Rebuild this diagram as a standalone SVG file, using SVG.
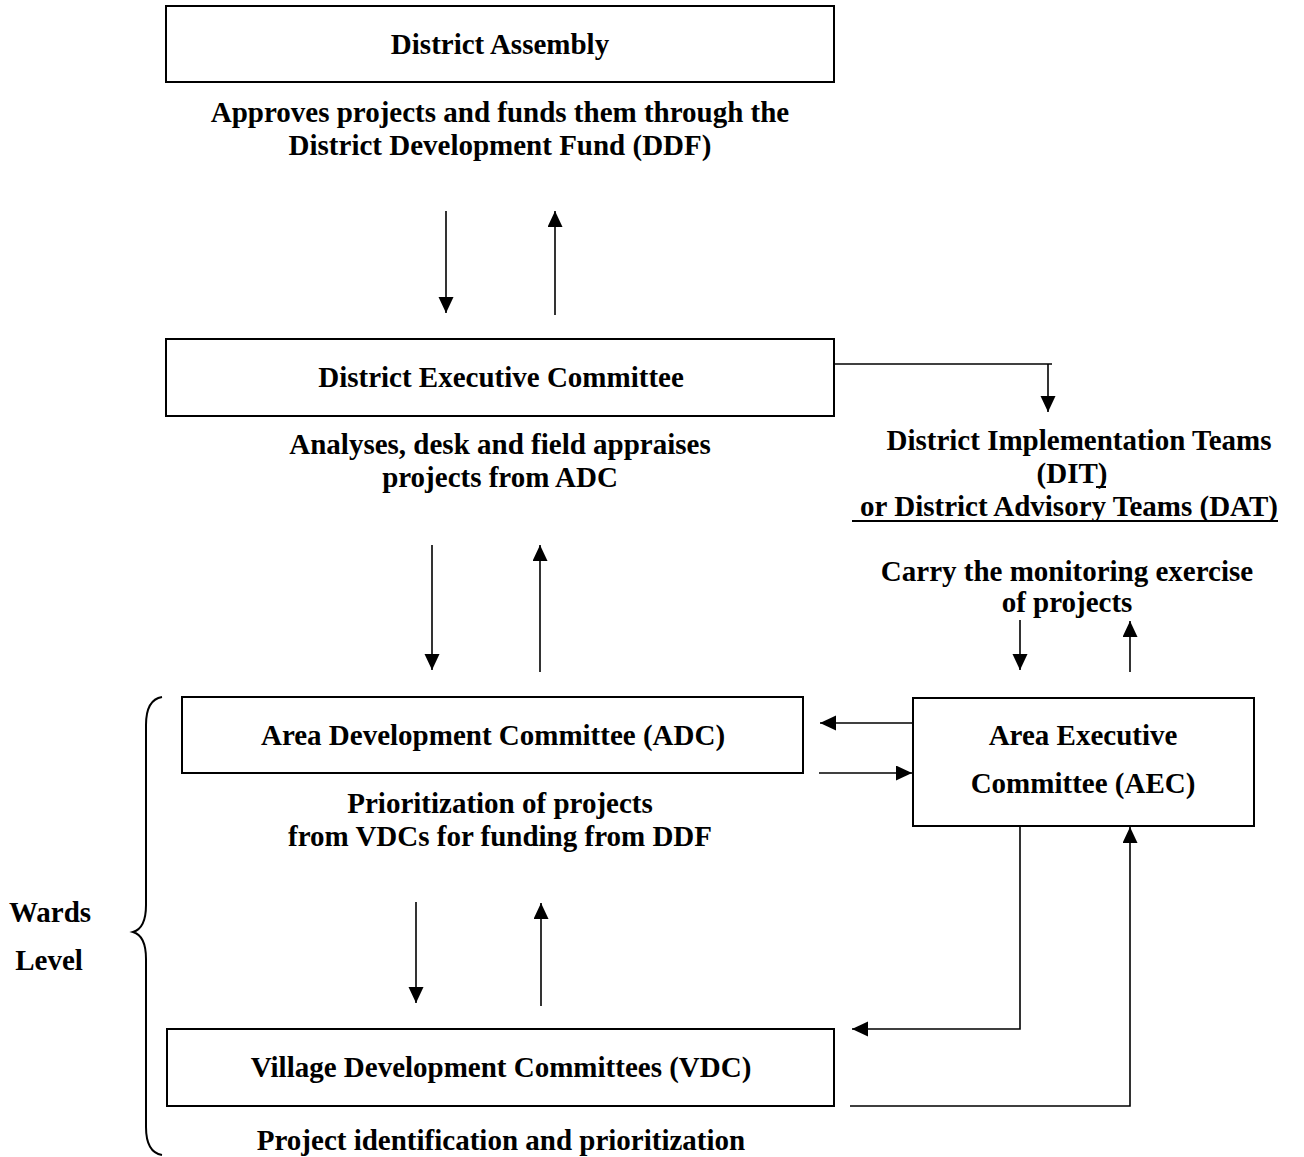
<svg xmlns="http://www.w3.org/2000/svg" width="1304" height="1157" viewBox="0 0 1304 1157">
<style>
  .box { fill: #ffffff; stroke: #000000; stroke-width: 2; }
  .t { font-family: "Liberation Serif", "Times New Roman", serif; font-weight: bold; font-size: 29px; fill: #000000; text-anchor: middle; }
  .ul { stroke: #000000; stroke-width: 2; }
  .c { fill: none; stroke: #000000; stroke-width: 1.6; }
  .brace { fill: none; stroke: #000000; stroke-width: 2; }
  .a { fill: none; stroke: #000000; stroke-width: 1.6; marker-end: url(#arr); }
</style>
<defs>
  <marker id="arr" markerUnits="userSpaceOnUse" markerWidth="17" markerHeight="16" refX="16" refY="7.5" orient="auto">
    <path d="M0,0 L16,7.5 L0,15 z" fill="#000000"/>
  </marker>
</defs>
<rect x="0" y="0" width="1304" height="1157" fill="#ffffff"/>

<g id="district-assembly">
  <rect class="box" x="166" y="6" width="668" height="76"/>
  <text class="t" x="500" y="54">District Assembly</text>
  <text class="t" x="500" y="122">Approves projects and funds them through the</text>
  <text class="t" x="500" y="155">District Development Fund (DDF)</text>
</g>

<g id="district-executive-committee">
  <rect class="box" x="166" y="339" width="668" height="77"/>
  <text class="t" x="501" y="387">District Executive Committee</text>
  <text class="t" x="500" y="454">Analyses, desk and field appraises</text>
  <text class="t" x="500" y="487">projects from ADC</text>
</g>

<g id="district-teams">
  <text class="t" x="1079" y="450">District Implementation Teams</text>
  <text class="t" x="1072" y="483">(DIT)</text>
  <line class="ul" x1="1096" y1="487" x2="1106" y2="487"/>
  <text class="t" x="1069" y="516">or District Advisory Teams (DAT)</text>
  <line class="ul" x1="852" y1="521" x2="1278" y2="521"/>
  <text class="t" x="1067" y="581">Carry the monitoring exercise</text>
  <text class="t" x="1067" y="612">of projects</text>
</g>

<g id="area-development-committee">
  <rect class="box" x="182" y="697" width="621" height="76"/>
  <text class="t" x="493" y="745">Area Development Committee (ADC)</text>
  <text class="t" x="500" y="813">Prioritization of projects</text>
  <text class="t" x="500" y="846">from VDCs for funding from DDF</text>
</g>

<g id="area-executive-committee">
  <rect class="box" x="913" y="698" width="341" height="128"/>
  <text class="t" x="1083" y="745">Area Executive</text>
  <text class="t" x="1083" y="793">Committee (AEC)</text>
</g>

<g id="village-development-committees">
  <rect class="box" x="167" y="1029" width="667" height="77"/>
  <text class="t" x="501" y="1077">Village Development Committees (VDC)</text>
  <text class="t" x="501" y="1150">Project identification and prioritization</text>
</g>

<g id="wards-level">
  <path class="brace" d="M162,697 C150,699 146,710 146,725 L146,905 C146,922 140,930 133,932 C140,934 146,942 146,959 L146,1127 C146,1142 150,1153 162,1155"/>
  <text class="t" x="50" y="922">Wards</text>
  <text class="t" x="49" y="970">Level</text>
</g>

<g id="connectors">
  <line class="a" x1="446" y1="211" x2="446" y2="313"/>
  <line class="a" x1="555" y1="315" x2="555" y2="211"/>
  <line class="c" x1="834" y1="364" x2="1052" y2="364"/>
  <line class="a" x1="1048" y1="364" x2="1048" y2="412"/>
  <line class="a" x1="432" y1="545" x2="432" y2="670"/>
  <line class="a" x1="540" y1="672" x2="540" y2="545"/>
  <line class="a" x1="1020" y1="620" x2="1020" y2="670"/>
  <line class="a" x1="1130" y1="672" x2="1130" y2="621"/>
  <line class="a" x1="913" y1="723" x2="820" y2="723"/>
  <line class="a" x1="819" y1="773" x2="912" y2="773"/>
  <line class="a" x1="416" y1="902" x2="416" y2="1003"/>
  <line class="a" x1="541" y1="1006" x2="541" y2="903"/>
  <polyline class="a" points="1020,826 1020,1029 852,1029"/>
  <polyline class="a" points="850,1106 1130,1106 1130,827"/>
</g>
</svg>
